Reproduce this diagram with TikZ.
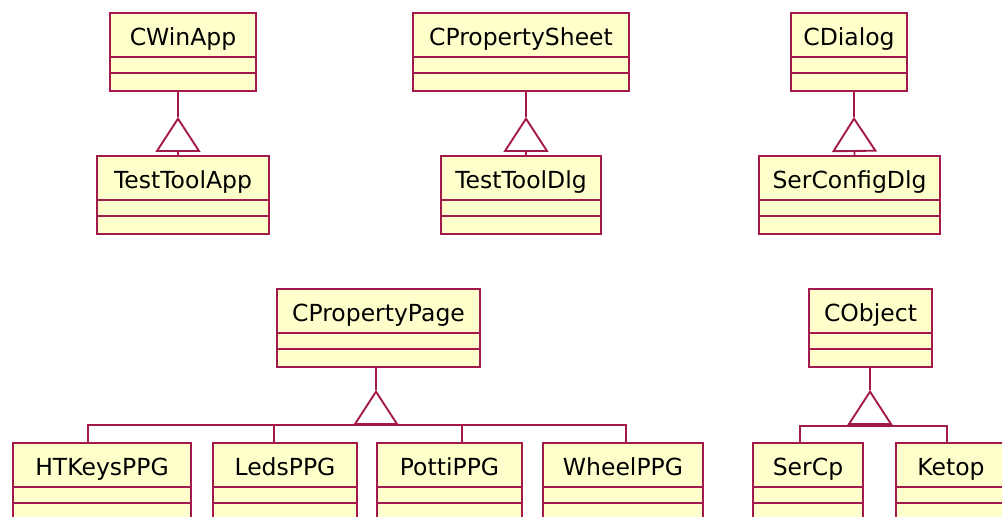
\documentclass[tikz,border=0pt]{standalone}
\usepackage{fontspec}
\setmainfont{DejaVu Sans}
\usetikzlibrary{arrows.meta,positioning}
\definecolor{roseline}{HTML}{A3194B}
\definecolor{rosefill}{HTML}{FFFFCC}

\begin{document}
\begin{tikzpicture}[
    x=1pt,y=-1pt,
    umlclass/.style={draw=roseline,fill=rosefill,line width=1.9pt,anchor=north,
      inner xsep=0pt,inner ysep=0pt,text height=33pt,text depth=45pt,
      font=\fontsize{23.5}{28}\selectfont,
      path picture={
        \draw[roseline,line width=1.9pt]
          ([yshift=-44pt]path picture bounding box.north west) -- ([yshift=-44pt]path picture bounding box.north east)
          ([yshift=-60pt]path picture bounding box.north west) -- ([yshift=-60pt]path picture bounding box.north east);}},
    link/.style={draw=roseline,line width=1.9pt},
    gen/.style={link,-{Triangle[open,length=35pt,width=45pt]}}
  ]
    \useasboundingbox (0,0) rectangle (1002,517);
    % top row
    \node[umlclass,minimum width=146pt] (cwinapp) at (183,12) {CWinApp};
    \node[umlclass,minimum width=172pt] (testtoolapp) at (183,155) {TestToolApp};
    \node[umlclass,minimum width=216pt] (cpropertysheet) at (521,12) {CPropertySheet};
    \node[umlclass,minimum width=160pt] (testtooldlg) at (521,155) {TestToolDlg};
    \node[umlclass,minimum width=116pt] (cdialog) at (849,12) {CDialog};
    \node[umlclass,minimum width=181pt] (serconfigdlg) at (849.5,155) {SerConfigDlg};
    % bottom row
    \node[umlclass,minimum width=203pt] (cpropertypage) at (378.5,288) {CPropertyPage};
    \node[umlclass,minimum width=123pt] (cobject) at (870.5,288) {CObject};
    \node[umlclass,minimum width=178pt] (htkeysppg) at (102,442) {HTKeysPPG};
    \node[umlclass,minimum width=144pt] (ledsppg) at (285,442) {LedsPPG};
    \node[umlclass,minimum width=145pt] (pottippg) at (449.5,442) {PottiPPG};
    \node[umlclass,minimum width=160pt] (wheelppg) at (623,442) {WheelPPG};
    \node[umlclass,minimum width=110pt] (sercp) at (808,442) {SerCp};
    \node[umlclass,minimum width=110pt] (ketop) at (951,442) {Ketop};
    % generalisations
    \coordinate[below=25pt of cwinapp.south,xshift=-5pt] (tipa);
    \draw[link] ([xshift=-5pt]cwinapp.south) -- (tipa);
    \draw[gen] ([xshift=-5pt]testtoolapp.north) -- (tipa);
    \coordinate[below=25pt of cpropertysheet.south,xshift=5pt] (tipb);
    \draw[link] ([xshift=5pt]cpropertysheet.south) -- (tipb);
    \draw[gen] ([xshift=5pt]testtooldlg.north) -- (tipb);
    \coordinate[below=25pt of cdialog.south,xshift=5pt] (tipc);
    \draw[link] ([xshift=5pt]cdialog.south) -- (tipc);
    \draw[gen] ([xshift=5pt]serconfigdlg.north) -- (tipc);
    \coordinate[below=22pt of cpropertypage.south,xshift=-2.5pt] (tipd);
    \coordinate[below=35pt of tipd] (based);
    \draw[link] ([xshift=-2.5pt]cpropertypage.south) -- (tipd);
    \draw[gen] (based) -- (tipd);
    \draw[link] ([xshift=-14pt]htkeysppg.north) |- (based);
    \draw[link] ([xshift=-11pt]ledsppg.north) |- (based);
    \draw[link] ([xshift=12.5pt]pottippg.north) |- (based);
    \draw[link] ([xshift=3pt]wheelppg.north) |- (based);
    \coordinate[below=22pt of cobject.south,xshift=-0.5pt] (tipe);
    \coordinate[below=36pt of tipe] (basee);
    \draw[link] ([xshift=-0.5pt]cobject.south) -- (tipe);
    \draw[gen] (basee) -- (tipe);
    \draw[link] ([xshift=-8pt]sercp.north) |- (basee);
    \draw[link] ([xshift=-4pt]ketop.north) |- (basee);
  \end{tikzpicture}
\end{document}
